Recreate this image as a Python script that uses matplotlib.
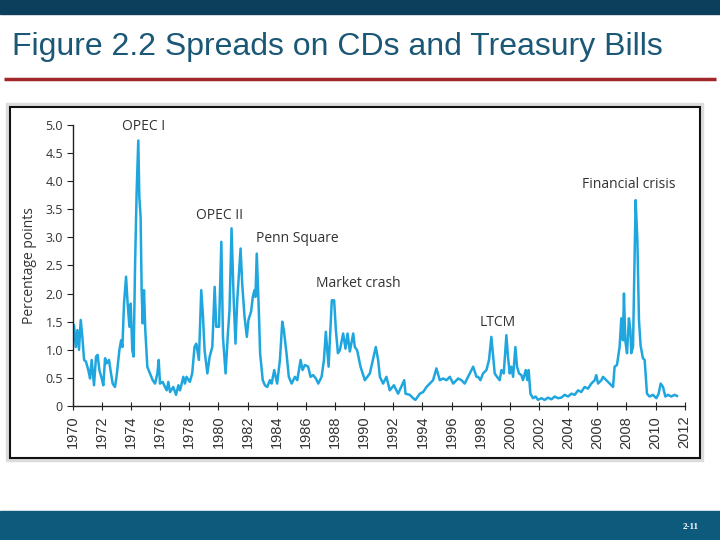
import numpy as np
import matplotlib
matplotlib.use('Agg')
import matplotlib.pyplot as plt
from matplotlib.patches import Rectangle

# spread (percentage points)
years = [1970.00, 1970.09, 1970.21, 1970.32, 1970.43, 1970.55, 1970.66, 1970.78, 1970.91, 1971.07,
         1971.19, 1971.30, 1971.46, 1971.60, 1971.71, 1971.83, 1971.99, 1972.10, 1972.22, 1972.33,
         1972.49, 1972.61, 1972.74, 1972.90, 1973.02, 1973.20, 1973.32, 1973.41, 1973.52, 1973.66,
         1973.77, 1973.89, 1973.98, 1974.09, 1974.18, 1974.28, 1974.39, 1974.50, 1974.57, 1974.66,
         1974.73, 1974.80, 1974.89, 1974.98, 1975.12, 1975.30, 1975.49, 1975.65, 1975.81, 1975.90,
         1975.99, 1976.17, 1976.33, 1976.45, 1976.56, 1976.68, 1976.90, 1977.09, 1977.25, 1977.36,
         1977.48, 1977.59, 1977.70, 1977.81, 1978.04, 1978.20, 1978.36, 1978.48, 1978.66, 1978.82,
         1978.94, 1979.05, 1979.24, 1979.40, 1979.58, 1979.74, 1979.85, 1980.04, 1980.20, 1980.31,
         1980.49, 1980.65, 1980.76, 1980.90, 1981.04, 1981.17, 1981.29, 1981.52, 1981.63, 1981.79,
         1981.95, 1982.06, 1982.24, 1982.36, 1982.47, 1982.54, 1982.63, 1982.77, 1982.86, 1983.04,
         1983.19, 1983.35, 1983.53, 1983.65, 1983.83, 1984.03, 1984.22, 1984.38,
         1984.49, 1984.67, 1984.83, 1985.02, 1985.25, 1985.41, 1985.64, 1985.77, 1985.93, 1986.16,
         1986.32, 1986.50, 1986.69, 1986.85, 1987.08, 1987.24, 1987.37, 1987.56, 1987.78, 1987.94,
         1988.06, 1988.20, 1988.33, 1988.56, 1988.72, 1988.86, 1989.02, 1989.25, 1989.36, 1989.52,
         1989.75, 1990.05, 1990.39, 1990.80, 1990.96, 1991.08, 1991.30, 1991.53, 1991.76, 1992.04,
         1992.33, 1992.75, 1992.84, 1993.13, 1993.36, 1993.52, 1993.82, 1994.05, 1994.28, 1994.51,
         1994.73, 1994.96, 1995.19, 1995.42, 1995.65, 1995.88, 1996.11, 1996.45, 1996.68, 1996.90,
         1997.25, 1997.48, 1997.71, 1997.82, 1997.98, 1998.16, 1998.39, 1998.57, 1998.73, 1998.85,
         1998.96, 1999.12, 1999.30, 1999.42, 1999.58, 1999.76, 1999.87, 1999.99, 2000.10, 2000.22,
         2000.38, 2000.49, 2000.63, 2000.79, 2000.90, 2001.09, 2001.20, 2001.29, 2001.41, 2001.59,
         2001.77, 2001.93, 2002.16, 2002.39, 2002.62, 2002.85, 2003.08, 2003.30, 2003.53, 2003.76,
         2003.99, 2004.22, 2004.45, 2004.68, 2004.90, 2005.13, 2005.36, 2005.59, 2005.82, 2005.93,
         2006.05, 2006.28, 2006.39, 2006.62, 2006.85, 2007.08, 2007.19, 2007.35, 2007.53, 2007.65,
         2007.76, 2007.83, 2007.92, 2008.04, 2008.17, 2008.27, 2008.33, 2008.45, 2008.56, 2008.63,
         2008.75, 2008.86, 2008.97, 2009.13, 2009.25, 2009.41, 2009.59, 2009.82, 2010.05, 2010.21,
         2010.35, 2010.51, 2010.67, 2010.85, 2011.08, 2011.31, 2011.47]

spread = [1.11, 1.44, 1.05, 1.35, 1.00, 1.53, 1.23, 0.82, 0.79, 0.64,
          0.49, 0.82, 0.37, 0.88, 0.91, 0.64, 0.49, 0.37, 0.85, 0.76,
          0.82, 0.61, 0.40, 0.34, 0.55, 0.99, 1.17, 1.05, 1.82, 2.30,
          1.82, 1.41, 1.82, 0.99, 0.88, 2.53, 3.84, 4.72, 3.72, 3.36,
          2.06, 1.47, 2.06, 1.35, 0.70, 0.58, 0.46, 0.40, 0.58, 0.82,
          0.40, 0.43, 0.34, 0.28, 0.43, 0.25, 0.34, 0.20, 0.37, 0.28,
          0.40, 0.52, 0.40, 0.52, 0.43, 0.58, 1.05, 1.11, 0.82, 2.06,
          1.59, 0.99, 0.58, 0.88, 1.05, 2.12, 1.41, 1.41, 2.92, 1.23,
          0.58, 1.29, 1.71, 3.16, 1.94, 1.11, 1.88, 2.80, 2.18, 1.59,
          1.23, 1.53, 1.68, 1.94, 2.06, 1.94, 2.71, 1.71, 0.94, 0.46,
          0.37, 0.34, 0.46, 0.40, 0.64, 0.40, 0.82, 1.50,
          1.35, 0.94, 0.52, 0.40, 0.52, 0.46, 0.82, 0.64, 0.73, 0.70,
          0.52, 0.55, 0.49, 0.40, 0.52, 0.82, 1.32, 0.70, 1.88, 1.88,
          1.35, 0.94, 0.99, 1.29, 1.02, 1.29, 0.97, 1.29, 1.05, 0.99,
          0.70, 0.46, 0.58, 1.05, 0.82, 0.52, 0.40, 0.52, 0.28, 0.37,
          0.22, 0.46, 0.22, 0.20, 0.14, 0.11, 0.22, 0.25, 0.34, 0.40,
          0.46, 0.67, 0.46, 0.49, 0.46, 0.52, 0.40, 0.49, 0.46, 0.40,
          0.58, 0.70, 0.52, 0.52, 0.46, 0.58, 0.64, 0.82, 1.23, 0.88,
          0.58, 0.52, 0.46, 0.64, 0.58, 1.26, 0.88, 0.58, 0.70, 0.52,
          1.05, 0.70, 0.58, 0.55, 0.46, 0.64, 0.46, 0.64, 0.22, 0.14,
          0.17, 0.11, 0.14, 0.11, 0.15, 0.12, 0.17, 0.14, 0.15, 0.20,
          0.17, 0.22, 0.20, 0.28, 0.25, 0.34, 0.31, 0.40, 0.46, 0.55,
          0.40, 0.46, 0.52, 0.46, 0.40, 0.34, 0.70, 0.73, 1.05, 1.56,
          1.17, 2.00, 1.17, 0.94, 1.56, 1.35, 0.94, 1.05, 2.59, 3.66,
          2.95, 1.53, 1.08, 0.85, 0.82, 0.22, 0.17, 0.20, 0.14, 0.22,
          0.40, 0.34, 0.17, 0.20, 0.17, 0.20, 0.18]

events = ['OPEC I', 'OPEC II', 'Penn Square', 'Market crash', 'LTCM', 'Financial crisis']
event_x = [1974.86, 1980.10, 1985.38, 1989.57, 1999.17, 2008.19]
event_y = [4.96, 3.39, 2.98, 2.18, 1.49, 3.94]

x_ticks = list(range(1970, 2013, 2))
y_ticks = [0, 0.5, 1.0, 1.5, 2.0, 2.5, 3.0, 3.5, 4.0, 4.5, 5.0]
y_tick_labels = ['0', '0.5', '1.0', '1.5', '2.0', '2.5', '3.0', '3.5', '4.0', '4.5', '5.0']

title = 'Figure 2.2 Spreads on CDs and Treasury Bills'

fig = plt.figure(figsize=(7.2, 5.4), dpi=100)

# slide background drawn in pixel coords
bg = fig.add_axes([0, 0, 1, 1], zorder=0)
bg.set_xlim(0, 720)
bg.set_ylim(540, 0)
bg.axis('off')
bg.add_patch(Rectangle((0, 0), 720, 14, color='#0b3f5b'))
bg.add_patch(Rectangle((0, 511), 720, 29, color='#0e5a7d'))
bg.plot([4, 716], [78.5, 78.5], color='#a0282a', lw=2.5, solid_capstyle='butt')
bg.add_patch(Rectangle((6, 103), 697, 358, color='#dcdcdc'))
bg.add_patch(Rectangle((10, 107), 690, 351, facecolor='white', edgecolor='#111111', lw=1.5))
bg.text(12, 47, title, fontsize=23, family='Liberation Sans', color='#1b5876', va='center', ha='left')
bg.text(691, 527, '2-11', fontsize=6.5, family='Liberation Serif', weight='bold', color='white',
        ha='center', va='center')

ax = fig.add_axes([0.101, 0.248, 0.850, 0.521], zorder=1)
ax.patch.set_alpha(0)
ax.plot(years, spread, color='#1fa6de', lw=1.8)

ax.set_xlim(1970, 2012)
ax.set_ylim(0, 5)
for s in ['top', 'right']:
    ax.spines[s].set_visible(False)
for s in ['left', 'bottom']:
    ax.spines[s].set_color('#222222')
    ax.spines[s].set_linewidth(1)

ax.set_yticks(y_ticks)
ax.set_yticklabels(y_tick_labels, family='Open Sans', fontsize=9, color='#333333')
ax.set_xticks(x_ticks)
ax.set_xticklabels([str(t) for t in x_ticks], rotation=90, family='Liberation Sans', fontsize=10.5,
                   color='#333333')
ax.tick_params(axis='y', direction='out', length=4, color='#222222', pad=3)
ax.tick_params(axis='x', direction='inout', length=6, color='#222222', pad=4)

ax.set_ylabel('Percentage points', family='Open Sans', fontsize=10, color='#333333', labelpad=6)

for name, ex, ey in zip(events, event_x, event_y):
    ax.text(ex, ey, name, ha='center', va='center', family='Open Sans', fontsize=10, color='#333333')

fig.savefig('out.png', dpi=100)
